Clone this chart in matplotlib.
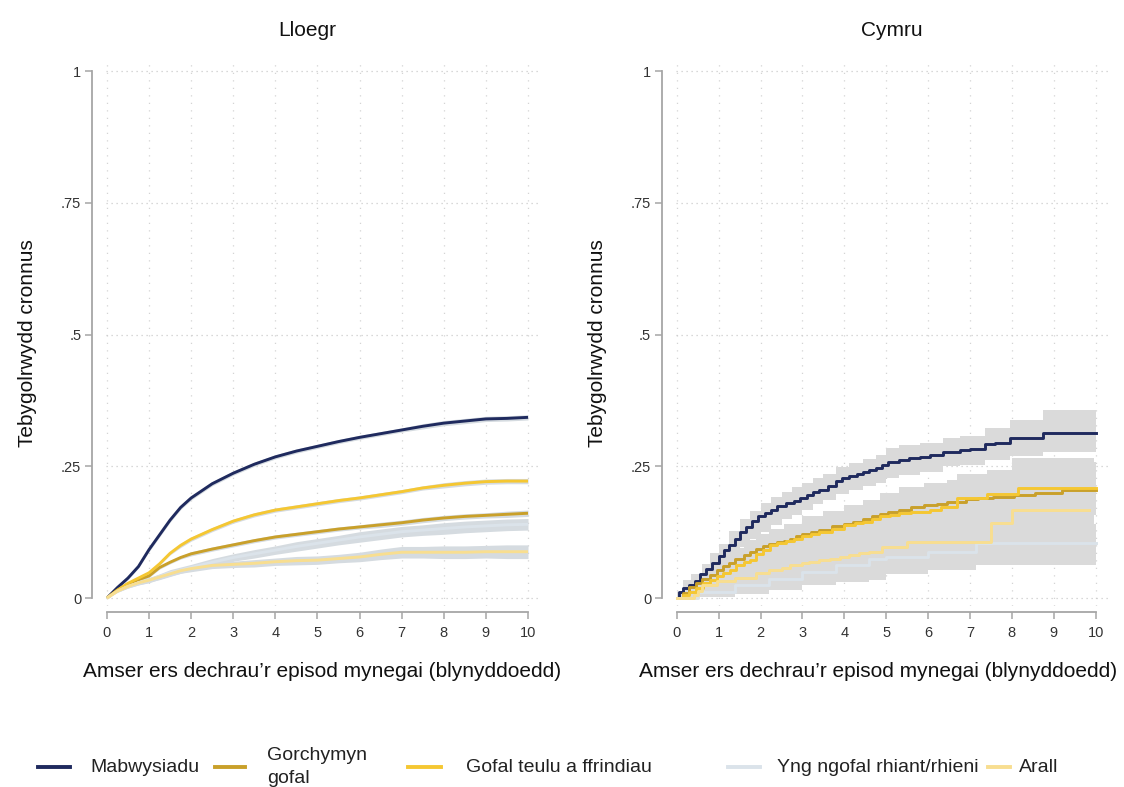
import numpy as np
import matplotlib
matplotlib.use("Agg")
import matplotlib.pyplot as plt
from matplotlib.lines import Line2D

plt.rcParams['font.family'] = ['Liberation Sans', 'DejaVu Sans']

# ---- data -------------------------------------------------------------
labels = ["Mabwysiadu", "Gorchymyn\ngofal", "Gofal teulu a ffrindiau",
          "Yng ngofal rhiant/rhieni", "Arall"]
colors = ["#1f2a5e", "#c9a02a", "#f5c732", "#dbe3ea", "#f8de90"]

# Lloegr (England): smooth cumulative curves on a common time grid
t_eng = [0, 0.25, 0.5, 0.75, 1, 1.25, 1.5, 1.75, 2, 2.5, 3, 3.5, 4, 4.5, 5,
         5.5, 6, 6.5, 7, 7.5, 8, 8.5, 9, 9.5, 10]
eng_mab = [0, 0.02, 0.038, 0.06, 0.092, 0.12, 0.148, 0.172, 0.19, 0.217, 0.237,
           0.254, 0.268, 0.279, 0.288, 0.297, 0.305, 0.312, 0.319, 0.326,
           0.332, 0.336, 0.34, 0.341, 0.343]
eng_gorch = [0, 0.015, 0.027, 0.035, 0.042, 0.058, 0.068, 0.077, 0.084, 0.093,
             0.101, 0.109, 0.116, 0.121, 0.126, 0.131, 0.135, 0.139, 0.143,
             0.148, 0.152, 0.155, 0.157, 0.159, 0.161]
eng_teulu = [0, 0.015, 0.028, 0.038, 0.048, 0.065, 0.085, 0.1, 0.112, 0.13,
             0.146, 0.158, 0.167, 0.173, 0.179, 0.185, 0.19, 0.196, 0.202,
             0.209, 0.214, 0.218, 0.221, 0.222, 0.222]
eng_rhiant = [0, 0.013, 0.022, 0.029, 0.034, 0.041, 0.048, 0.053, 0.058, 0.068,
              0.077, 0.084, 0.091, 0.098, 0.104, 0.11, 0.116, 0.121, 0.126,
              0.129, 0.132, 0.135, 0.137, 0.139, 0.14]
eng_arall = [0, 0.013, 0.022, 0.029, 0.034, 0.04, 0.046, 0.052, 0.056, 0.062,
             0.064, 0.066, 0.069, 0.071, 0.072, 0.075, 0.078, 0.083, 0.087,
             0.087, 0.087, 0.087, 0.088, 0.088, 0.088]
# half-widths of the 95% bands
eng_ci_mab = [0, 0.002, 0.003, 0.003, 0.004, 0.004, 0.004, 0.004, 0.004, 0.004,
              0.004, 0.004, 0.004, 0.004, 0.004, 0.004, 0.004, 0.004, 0.004,
              0.005, 0.005, 0.005, 0.005, 0.005, 0.005]
eng_ci_gorch = [0, 0.002, 0.003, 0.003, 0.003, 0.003, 0.003, 0.003, 0.004,
                0.004, 0.004, 0.004, 0.004, 0.004, 0.004, 0.004, 0.004, 0.005,
                0.005, 0.005, 0.005, 0.005, 0.005, 0.006, 0.006]
eng_ci_teulu = [0, 0.002, 0.003, 0.003, 0.003, 0.003, 0.003, 0.004, 0.004,
                0.004, 0.004, 0.004, 0.004, 0.004, 0.004, 0.004, 0.004, 0.004,
                0.004, 0.004, 0.005, 0.005, 0.005, 0.005, 0.005]
eng_ci_rhiant = [0, 0.002, 0.003, 0.004, 0.005, 0.005, 0.006, 0.006, 0.006,
                 0.007, 0.007, 0.008, 0.008, 0.009, 0.009, 0.009, 0.01, 0.01,
                 0.01, 0.01, 0.011, 0.011, 0.011, 0.011, 0.011]
eng_ci_arall = [0, 0.002, 0.003, 0.004, 0.004, 0.005, 0.005, 0.005, 0.006,
                0.006, 0.006, 0.007, 0.007, 0.008, 0.008, 0.008, 0.009, 0.01,
                0.011, 0.011, 0.012, 0.012, 0.012, 0.013, 0.013]

# Cymru (Wales): step functions, each with its own event times
cy_mab_t = [0, 0.05, 0.15, 0.3, 0.43, 0.55, 0.7, 0.85, 1.0, 1.12, 1.25, 1.38,
            1.5, 1.65, 1.8, 1.95, 2.1, 2.25, 2.4, 2.6, 2.8, 2.95, 3.1, 3.25,
            3.4, 3.6, 3.8, 3.95, 4.1, 4.3, 4.45, 4.6, 4.75, 4.9, 5.05, 5.3,
            5.55, 5.8, 6.05, 6.35, 6.75, 7.0, 7.35, 7.6, 7.95, 8.75, 10]
cy_mab = [0, 0.012, 0.02, 0.025, 0.033, 0.045, 0.056, 0.067, 0.08, 0.092, 0.1,
          0.112, 0.125, 0.135, 0.146, 0.155, 0.162, 0.168, 0.174, 0.18, 0.185,
          0.19, 0.195, 0.201, 0.206, 0.213, 0.222, 0.227, 0.232, 0.236, 0.24,
          0.243, 0.247, 0.252, 0.258, 0.262, 0.265, 0.268, 0.272, 0.277, 0.281,
          0.282, 0.293, 0.294, 0.303, 0.313, 0.313]
cy_mab_band_t = [0, 0.15, 0.35, 0.6, 0.8, 1.0, 1.25, 1.5, 1.75, 2.0, 2.25, 2.5,
                 2.75, 3.0, 3.25, 3.5, 3.8, 4.1, 4.45, 4.75, 5.0, 5.3, 5.8,
                 6.35, 6.75, 7.35, 7.95, 8.75, 10]
cy_mab_hi = [0.012, 0.035, 0.045, 0.065, 0.085, 0.103, 0.127, 0.15, 0.166,
             0.18, 0.192, 0.202, 0.21, 0.218, 0.227, 0.236, 0.248, 0.256,
             0.264, 0.272, 0.284, 0.29, 0.295, 0.303, 0.307, 0.322, 0.338,
             0.357, 0.357]
cy_mab_lo = [0, 0.008, 0.013, 0.027, 0.04, 0.055, 0.075, 0.097, 0.112, 0.125,
             0.138, 0.15, 0.158, 0.168, 0.178, 0.186, 0.198, 0.205, 0.212,
             0.218, 0.228, 0.234, 0.24, 0.25, 0.253, 0.262, 0.27, 0.278, 0.278]

cy_gorch_t = [0, 0.15, 0.3, 0.45, 0.6, 0.8, 0.95, 1.1, 1.25, 1.4, 1.6, 1.75,
              1.9, 2.05, 2.2, 2.4, 2.55, 2.7, 2.85, 3.0, 3.2, 3.4, 3.7, 4.0,
              4.2, 4.45, 4.65, 4.85, 5.05, 5.3, 5.6, 5.9, 6.2, 6.45, 6.9, 7.2,
              7.55, 8.05, 8.55, 9.2, 10]
cy_gorch = [0, 0.01, 0.021, 0.028, 0.036, 0.044, 0.053, 0.06, 0.067, 0.074,
            0.082, 0.088, 0.093, 0.098, 0.102, 0.106, 0.109, 0.113, 0.117,
            0.121, 0.125, 0.13, 0.136, 0.141, 0.145, 0.15, 0.155, 0.16, 0.164,
            0.168, 0.172, 0.176, 0.179, 0.182, 0.188, 0.19, 0.192, 0.195, 0.2,
            0.205, 0.205]
cy_gorch_band_t = [0, 0.3, 0.6, 0.95, 1.25, 1.6, 1.9, 2.2, 2.55, 3.0, 3.5, 4.0,
                   4.45, 4.85, 5.3, 5.9, 6.45, 6.9, 7.55, 8.05, 8.55, 9.2, 10]
cy_gorch_hi = [0.008, 0.035, 0.06, 0.08, 0.095, 0.11, 0.122, 0.131, 0.14,
               0.155, 0.165, 0.177, 0.187, 0.2, 0.21, 0.218, 0.225, 0.234,
               0.238, 0.242, 0.248, 0.254, 0.254]
cy_gorch_lo = [0, 0.01, 0.02, 0.03, 0.042, 0.053, 0.064, 0.072, 0.08, 0.09,
               0.098, 0.107, 0.115, 0.122, 0.13, 0.134, 0.139, 0.145, 0.147,
               0.149, 0.153, 0.157, 0.157]

cy_teulu_t = [0, 0.15, 0.3, 0.45, 0.63, 0.8, 0.95, 1.1, 1.26, 1.42, 1.6, 1.74,
              1.9, 2.05, 2.22, 2.4, 2.6, 2.8, 3.0, 3.2, 3.4, 3.7, 4.0, 4.25,
              4.45, 4.65, 4.85, 5.1, 5.3, 5.6, 6.05, 6.3, 6.7, 7.4, 8.15, 10]
cy_teulu = [0, 0.006, 0.012, 0.02, 0.029, 0.035, 0.041, 0.047, 0.054, 0.063,
            0.068, 0.072, 0.084, 0.092, 0.1, 0.105, 0.109, 0.113, 0.117, 0.121,
            0.126, 0.132, 0.139, 0.142, 0.145, 0.15, 0.155, 0.158, 0.161,
            0.164, 0.168, 0.173, 0.19, 0.197, 0.208, 0.208]
cy_teulu_band_t = [0, 0.3, 0.6, 0.95, 1.25, 1.6, 1.9, 2.2, 2.55, 3.0, 3.5, 4.0,
                   4.45, 4.85, 5.3, 6.05, 6.3, 6.7, 7.4, 8.15, 10]
cy_teulu_hi = [0.005, 0.025, 0.05, 0.068, 0.082, 0.097, 0.115, 0.132, 0.14,
               0.152, 0.164, 0.175, 0.182, 0.196, 0.203, 0.212, 0.218, 0.236,
               0.244, 0.258, 0.258]
cy_teulu_lo = [0, 0.002, 0.012, 0.022, 0.032, 0.042, 0.055, 0.07, 0.078, 0.086,
               0.094, 0.104, 0.109, 0.117, 0.122, 0.128, 0.132, 0.147, 0.153,
               0.162, 0.162]

cy_rhiant_t = [0, 0.5, 1.4, 2.2, 3.0, 3.8, 4.6, 5.0, 6.0, 7.15, 10]
cy_rhiant = [0, 0.011, 0.024, 0.037, 0.05, 0.062, 0.075, 0.078, 0.088, 0.104,
             0.104]
cy_rhiant_hi = [0.003, 0.03, 0.045, 0.06, 0.077, 0.09, 0.105, 0.11, 0.12, 0.14,
                0.14]
cy_rhiant_lo = [0, 0.002, 0.008, 0.016, 0.024, 0.03, 0.035, 0.045, 0.053, 0.063,
                0.063]

cy_arall_t = [0, 0.4, 0.5, 0.6, 0.95, 1.4, 1.9, 2.2, 2.5, 2.7, 3.0, 3.15, 3.4,
              3.65, 3.9, 4.1, 4.35, 4.6, 4.9, 5.5, 7.5, 8.0, 9.85]
cy_arall = [0, 0.006, 0.013, 0.024, 0.032, 0.038, 0.047, 0.054, 0.058, 0.062,
            0.066, 0.069, 0.072, 0.075, 0.078, 0.081, 0.085, 0.088, 0.097,
            0.107, 0.143, 0.168, 0.168]
cy_arall_band_t = [0, 0.4, 0.55, 0.95, 1.4, 1.9, 2.2, 2.7, 3.15, 3.65, 4.1, 4.6,
                   4.9, 5.5, 7.5, 8.0, 9.95]
cy_arall_hi = [0, 0.01, 0.04, 0.055, 0.062, 0.073, 0.082, 0.092, 0.1, 0.107,
               0.115, 0.123, 0.135, 0.148, 0.21, 0.265, 0.265]
cy_arall_lo = [0, 0, 0.008, 0.013, 0.017, 0.022, 0.027, 0.033, 0.038, 0.043,
               0.047, 0.052, 0.058, 0.066, 0.09, 0.1, 0.1]

x_ticks = list(range(0, 11))
y_ticks = [0, 0.25, 0.5, 0.75, 1]
y_ticklabels = ["0", ".25", ".5", ".75", "1"]

# ---- figure -----------------------------------------------------------
fig = plt.figure(figsize=(11.24, 7.87), dpi=100)
ax1 = fig.add_axes([0.094, 0.230, 0.387, 0.693])
ax2 = fig.add_axes([0.601, 0.230, 0.385, 0.693])

grey_txt = "#333333"
spine_c = "#a6a6a6"


def style_axis(ax, xlab_x):
    ax.set_xlim(-0.03, 10.3)
    ax.set_ylim(-0.015, 1.02)
    for s in ["top", "right"]:
        ax.spines[s].set_visible(False)
    ax.spines["left"].set_position(("outward", 9.5))
    ax.spines["bottom"].set_position(("outward", 4.5))
    ax.spines["left"].set_bounds(0, 1)
    ax.spines["bottom"].set_bounds(0, 10)
    for s in ["left", "bottom"]:
        ax.spines[s].set_color(spine_c)
        ax.spines[s].set_linewidth(1.3)
    ax.set_xticks(x_ticks)
    ax.set_yticks(y_ticks)
    ax.set_yticklabels(y_ticklabels)
    ax.tick_params(axis="both", colors=spine_c, labelcolor=grey_txt,
                   length=5, width=1.1, labelsize=10.5)
    ax.tick_params(axis="x", pad=5)
    ax.tick_params(axis="y", pad=3)
    # Stata-like dotted grid: horizontal denser, vertical sparser
    ax.yaxis.grid(True, color="#cccccc", linestyle=(0, (1, 3)), linewidth=0.9)
    ax.xaxis.grid(True, color="#d4d4d4", linestyle=(0, (1, 5)), linewidth=0.9)
    ax.set_axisbelow(True)
    ax.set_ylabel("Tebygolrwydd cronnus", fontsize=15, color="#111111")
    ax.yaxis.set_label_coords(-0.158, 0.482)
    ax.set_xlabel("Amser ers dechrau\u2019r episod mynegai (blynyddoedd)",
                  fontsize=15, color="#111111", va="top")
    ax.xaxis.set_label_coords(xlab_x, -0.103)


style_axis(ax1, 0.497)
style_axis(ax2, 0.468)

# England
t = np.array(t_eng)
eng_series = [eng_mab, eng_gorch, eng_teulu, eng_rhiant, eng_arall]
eng_ci = [eng_ci_mab, eng_ci_gorch, eng_ci_teulu, eng_ci_rhiant, eng_ci_arall]
band_eng = "#d5dbe0"
for y, w in zip(eng_series, eng_ci):
    y = np.array(y)
    w = np.array(w)
    ax1.fill_between(t, y - w, y + w, color=band_eng, lw=0, zorder=2)
for y, c in zip(eng_series, colors):
    ax1.plot(t, y, color=c, lw=2.1, zorder=3, solid_capstyle="butt")

# Wales
band_cy = "#dadada"
cy_bands = [
    (cy_mab_band_t, cy_mab_lo, cy_mab_hi),
    (cy_gorch_band_t, cy_gorch_lo, cy_gorch_hi),
    (cy_teulu_band_t, cy_teulu_lo, cy_teulu_hi),
    (cy_rhiant_t, cy_rhiant_lo, cy_rhiant_hi),
    (cy_arall_band_t, cy_arall_lo, cy_arall_hi),
]
cy_lines = [(cy_mab_t, cy_mab), (cy_gorch_t, cy_gorch), (cy_teulu_t, cy_teulu),
            (cy_rhiant_t, cy_rhiant), (cy_arall_t, cy_arall)]
for tt, lo, hi in cy_bands:
    ax2.fill_between(tt, lo, hi, step="post", color=band_cy, lw=0, zorder=2)
for (tt, y), c in zip(cy_lines, colors):
    ax2.step(tt, y, where="post", color=c, lw=2.1, zorder=3)

# panel titles
fig.text(307 / 1124, 1 - 30 / 787, "Lloegr", ha="center", va="center",
         fontsize=15, color="#111111")
fig.text(892 / 1124, 1 - 30 / 787, "Cymru", ha="center", va="center",
         fontsize=15, color="#111111")

# legend drawn by hand along the bottom (handle start/end, text start in px)
leg_handles = [(38, 70), (215, 245), (408, 441), (728, 760), (988, 1010)]
leg_text_x = [90, 267, 466, 777, 1019]
leg_y = 1 - 767 / 787
for lab, c, (h0, h1), tx in zip(labels, colors, leg_handles, leg_text_x):
    fig.add_artist(Line2D([h0 / 1124, h1 / 1124], [leg_y, leg_y],
                          transform=fig.transFigure, color=c, lw=2.8))
    fig.text(tx / 1124, leg_y, lab, ha="left", va="center", fontsize=14,
             color="#222222", linespacing=1.45)

fig.savefig("out.png", dpi=100)
